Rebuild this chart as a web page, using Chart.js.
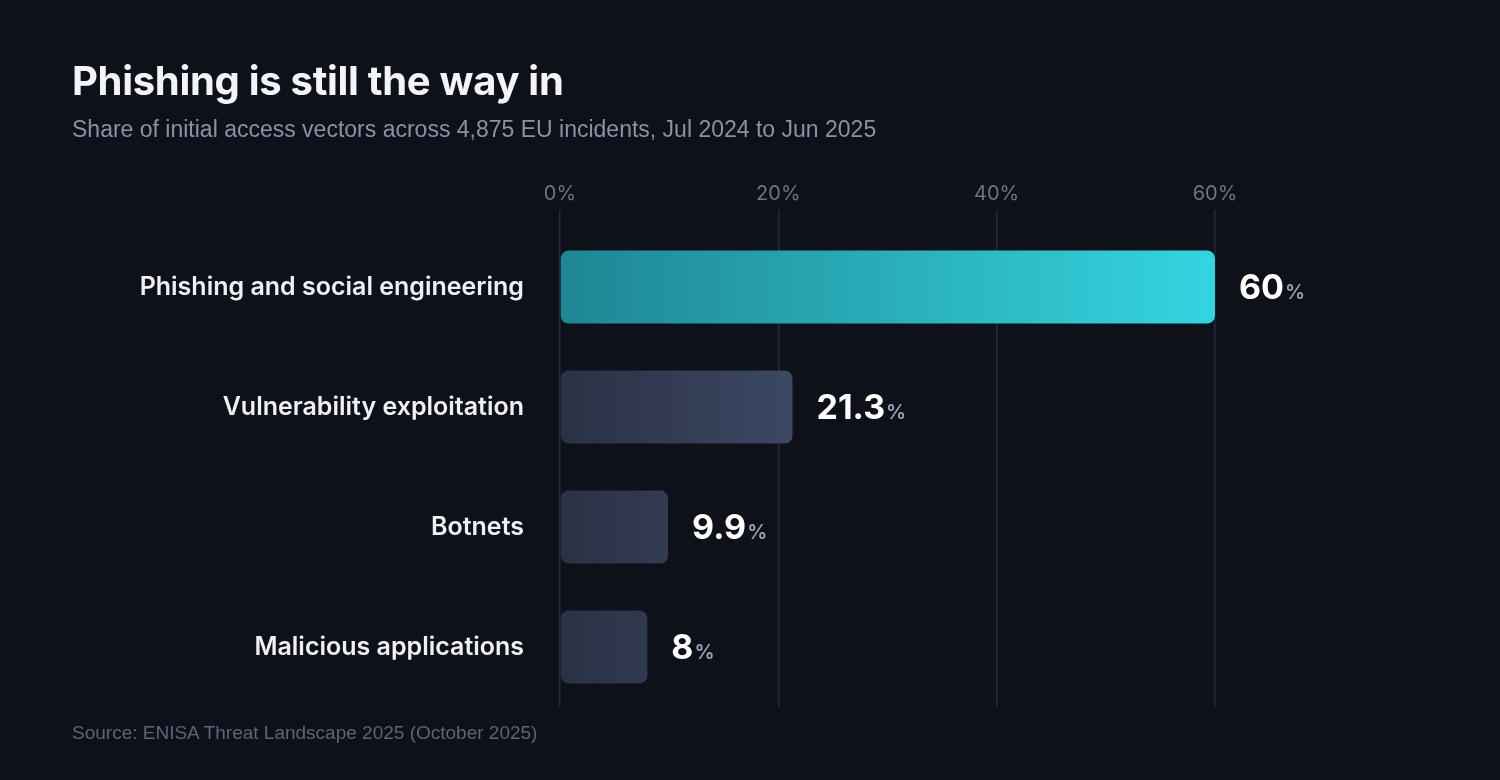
<!DOCTYPE html>
<html>
<head>
<meta charset="utf-8">
<script src="https://cdn.jsdelivr.net/npm/chart.js@4"></script>
<style>
  html, body { margin: 0; padding: 0; background: #0e111a; }
  body { width: 1500px; height: 780px; position: relative; overflow: hidden; font-family: Inter, "Noto Sans", sans-serif; }
  #title { position: absolute; left: 72px; top: 56px; color: #f3f4f7; font-size: 40px; font-weight: 700; letter-spacing: -0.3px; }
  #sub { position: absolute; left: 72px; top: 116px; color: #8a92a6; font-size: 23px; font-family: "Liberation Sans", Arial, sans-serif; }
  #src { position: absolute; left: 72px; top: 722px; color: #5d6478; font-size: 19px; font-family: "Liberation Sans", Arial, sans-serif; }
  #wrap { position: absolute; left: 0; top: 0; width: 1500px; height: 780px; }
</style>
</head>
<body>
<div id="wrap"><canvas id="c"></canvas></div>
<div id="title">Phishing is still the way in</div>
<div id="sub">Share of initial access vectors across 4,875 EU incidents, Jul 2024 to Jun 2025</div>
<div id="src">Source: ENISA Threat Landscape 2025 (October 2025)</div>
<script>
// ===== データ =====
var categories = ["Phishing and social engineering", "Vulnerability exploitation", "Botnets", "Malicious applications"];
var shares = [60, 21.3, 9.9, 8];
var xTicks = [0, 20, 40, 60];

function barFill(ctx) {
  var chart = ctx.chart, area = chart.chartArea;
  if (!area) return "#333b50";
  var g = chart.ctx.createLinearGradient(area.left, 0, area.left + (ctx.dataIndex === 0 ? 655 : 230), 0);
  if (ctx.dataIndex === 0) {
    g.addColorStop(0, "#1f8693");
    g.addColorStop(1, "#34d5e0");
  } else {
    g.addColorStop(0, "#2a3145");
    g.addColorStop(1, "#3c4762");
  }
  return g;
}

// 値ラベル
var valueLabels = {
  id: "valueLabels",
  afterDatasetsDraw: function (chart) {
    var c = chart.ctx;
    chart.getDatasetMeta(0).data.forEach(function (bar, i) {
      var num = String(shares[i]);
      var x = bar.x + 24, y = bar.y + 2;
      c.save();
      c.textBaseline = "middle";
      c.textAlign = "left";
      c.font = "700 34px Inter, sans-serif";
      c.fillStyle = "#ffffff";
      c.fillText(num, x, y);
      var w = c.measureText(num).width;
      c.font = "600 20px Inter, sans-serif";
      c.fillStyle = "#9aa1b3";
      c.fillText("%", x + w + 1, y + 4);
      c.restore();
    });
  }
};

new Chart(document.getElementById("c"), {
  type: "bar",
  data: {
    labels: categories,
    datasets: [{
      data: shares,
      backgroundColor: barFill,
      borderRadius: 8,
      borderSkipped: false,
      barPercentage: 0.61,
      categoryPercentage: 1
    }]
  },
  options: {
    indexAxis: "y",
    responsive: true, maintainAspectRatio: false,
    animation: false,
    layout: { padding: { top: 172, bottom: 73, right: 285 } },
    plugins: { legend: { display: false }, tooltip: { enabled: false } },
    scales: {
      x: {
        position: "top",
        min: 0, max: 60,
        afterBuildTicks: function (axis) { axis.ticks = xTicks.map(function (v) { return { value: v }; }); },
        afterFit: function (axis) { axis.height = 55; },
        border: { display: false },
        grid: { color: "#262b38", lineWidth: 1.5, tickLength: 17 },
        ticks: { color: "#6d7487", padding: 4, font: { size: 20, family: "Inter" }, callback: function (v) { return v + "%"; } }
      },
      y: {
        afterFit: function (axis) { axis.width = 560; },
        border: { display: false },
        grid: { display: false },
        ticks: { color: "#eef0f4", padding: 28, font: { size: 25, weight: "600", family: "Inter" } }
      }
    }
  },
  plugins: [valueLabels]
});
</script>
</body>
</html>
